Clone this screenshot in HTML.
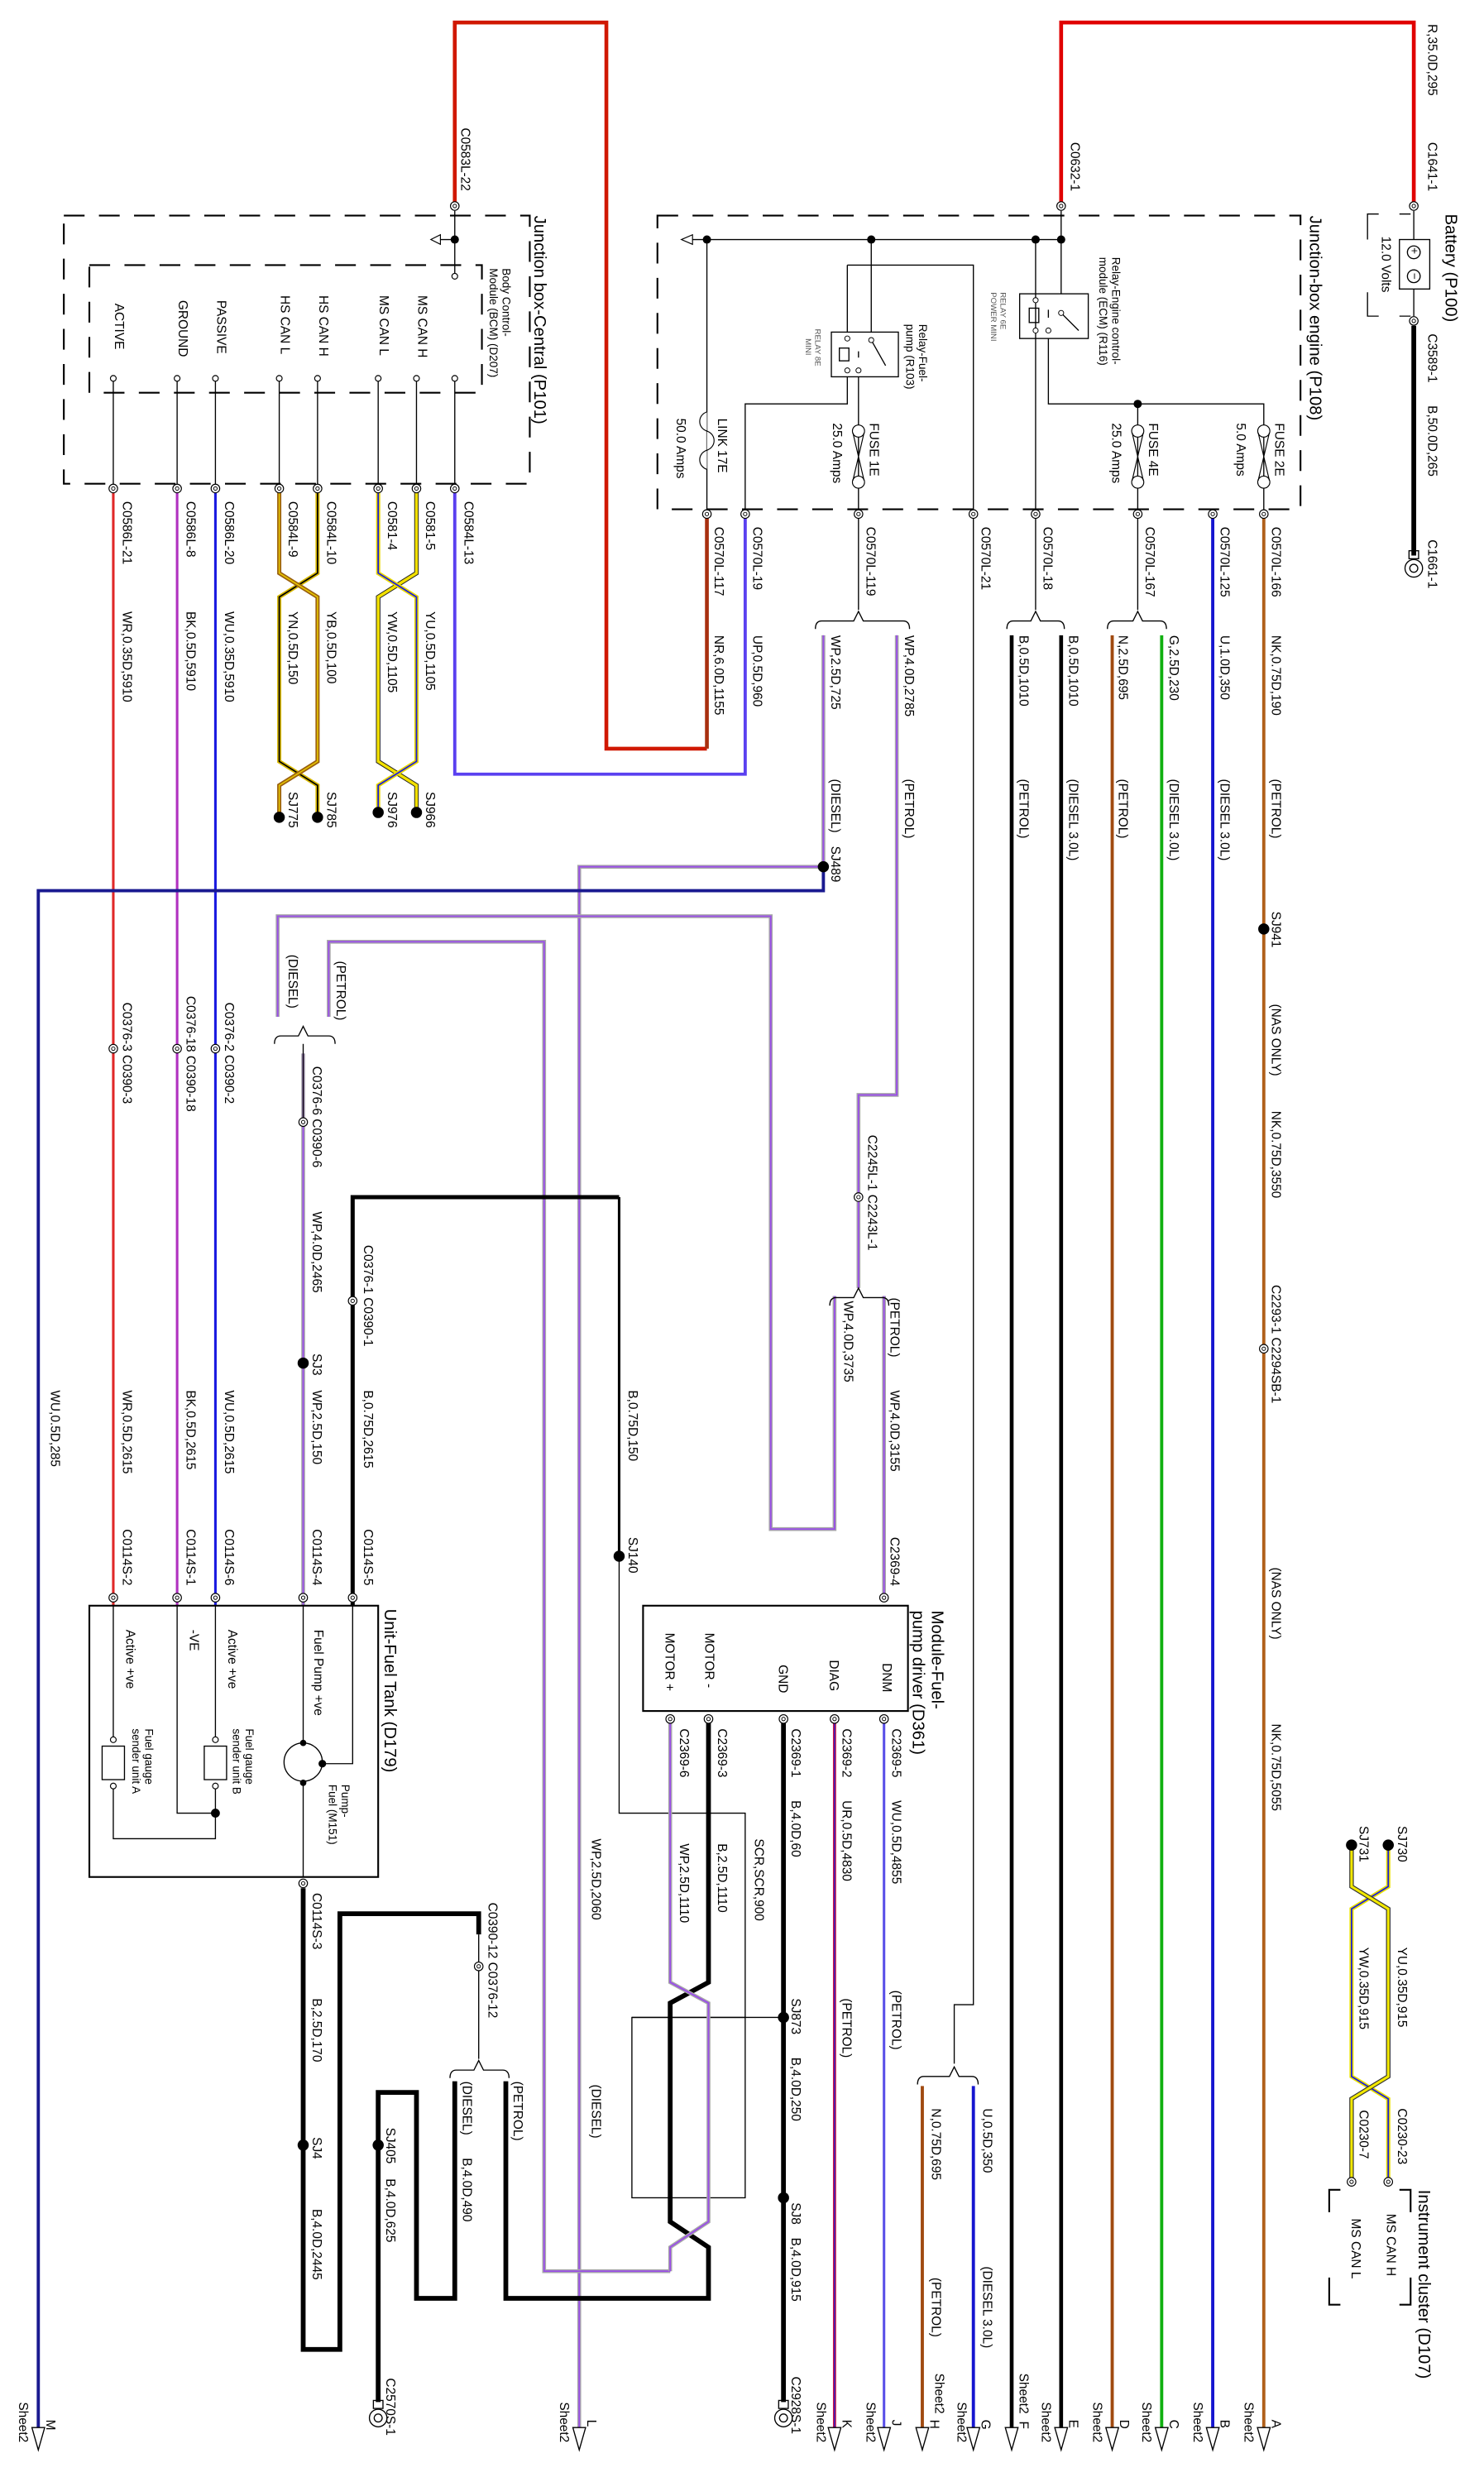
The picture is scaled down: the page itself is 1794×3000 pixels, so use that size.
<!DOCTYPE html>
<html><head><meta charset="utf-8"><style>
html,body{margin:0;padding:0;background:#fff}
svg{display:block}
text{font-family:"Liberation Sans",sans-serif;font-size:8px;fill:#000}
.t{font-size:10.5px}
.s{font-size:7px}
.xs{font-size:5px;fill:#555}
.th{fill:none;stroke:#000;stroke-width:0.7}
.dash{fill:none;stroke:#000;stroke-width:1.1;stroke-dasharray:13 9}
</style></head><body>
<svg width="1794" height="3000" viewBox="0 0 930 1555" xmlns="http://www.w3.org/2000/svg">
<defs>
<g id="cn"><circle r="2.7" fill="#fff" stroke="#000" stroke-width="0.6"/><circle r="1.1" fill="none" stroke="#000" stroke-width="0.5"/></g>
<g id="pin"><circle r="1.8" fill="#fff" stroke="#000" stroke-width="0.6"/></g>
</defs>
<rect width="930" height="1555" fill="#fff"/>

<!-- ===== Battery ===== -->
<path d="M886,129 V14 H665 V129" fill="none" stroke="#e00000" stroke-width="2.4"/>
<path d="M886,204 V348" stroke="#000" stroke-width="3"/>
<path d="M864,134 H857 V150 M857,183 V198 H864 M877,134 H884 M877,198 H884" class="th" stroke-width="1.1"/>
<line x1="886" y1="132" x2="886" y2="150" class="th"/>
<line x1="886" y1="181" x2="886" y2="198" class="th"/>
<rect x="877" y="150" width="19" height="31" class="th"/>
<circle cx="886" cy="158" r="4" class="th"/><circle cx="886" cy="173" r="4" class="th"/>
<text transform="translate(884,155) rotate(90)" class="s">+</text>
<text transform="translate(884,171) rotate(90)" class="s">−</text>
<use href="#cn" x="886" y="129"/><use href="#cn" x="886" y="201"/>
<rect x="883" y="345" width="6" height="5" class="th"/>
<circle cx="886" cy="356" r="5.5" class="th"/><circle cx="886" cy="356" r="2.5" class="th"/>
<text transform="translate(906,134) rotate(90)" class="t">Battery (P100)</text>
<text transform="translate(866,148) rotate(90)">12.0 Volts</text>
<text transform="translate(895,15) rotate(90)">R,35.0D,295</text>
<text transform="translate(895,89) rotate(90)">C1641-1</text>
<text transform="translate(895,209) rotate(90)">C3589-1</text>
<text transform="translate(895,254) rotate(90)">B,50.0D,265</text>
<text transform="translate(895,338) rotate(90)">C1661-1</text>
<text transform="translate(671,89) rotate(90)">C0632-1</text>

<!-- ===== Junction box engine ===== -->
<rect x="412" y="135" width="403" height="184" class="dash"/>
<text transform="translate(821,135) rotate(90)" class="t">Junction-box engine (P108)</text>
<path d="M430,150 H665 M665,132 V184 M649,150 V322 M657,212 V253 H792 V322 M713,253 V322" class="th"/>
<polygon points="427,150 434,147 434,153" fill="#fff" stroke="#000" stroke-width="0.6"/>
<circle cx="443" cy="150" r="2.6"/><circle cx="546" cy="150" r="2.6"/><circle cx="649" cy="150" r="2.6"/><circle cx="665" cy="150" r="2.6"/><circle cx="713" cy="253" r="2.6"/>
<rect x="639" y="184" width="43" height="28" fill="#fff" class="th"/>
<rect x="645" y="193" width="6" height="9" class="th"/>
<path d="M657,194 v5 M665,196 L676,207" class="th"/>
<circle cx="649" cy="188" r="1.6" fill="#fff" stroke="#000" stroke-width="0.5"/><circle cx="649" cy="207" r="1.6" fill="#fff" stroke="#000" stroke-width="0.5"/><circle cx="657" cy="207" r="1.6" fill="#fff" stroke="#000" stroke-width="0.5"/><circle cx="665" cy="196" r="1.6" fill="#fff" stroke="#000" stroke-width="0.5"/>
<text transform="translate(697,161) rotate(90)" class="s">Relay-Engine control-</text>
<text transform="translate(689,161) rotate(90)" class="s">module (ECM) (R116)</text>
<text transform="translate(627,183) rotate(90)" class="xs">RELAY 6E</text>
<text transform="translate(621,183) rotate(90)" class="xs">POWER MINI</text>
<path d="M531,166 H610 V1256 H598 V1293 M546,150 V208 M531,166 V208 M531,236 V253 H467 V322 M538,236 V322 M443,150 V322" class="th"/>
<rect x="521" y="208" width="42" height="28" fill="#fff" class="th"/>
<rect x="526" y="218" width="6" height="8" class="th"/>
<path d="M538,220 v4 M546,213 L555,229" class="th"/>
<circle cx="531" cy="212" r="1.6" fill="#fff" stroke="#000" stroke-width="0.5"/><circle cx="531" cy="232" r="1.6" fill="#fff" stroke="#000" stroke-width="0.5"/><circle cx="538" cy="232" r="1.6" fill="#fff" stroke="#000" stroke-width="0.5"/><circle cx="546" cy="213" r="1.6" fill="#fff" stroke="#000" stroke-width="0.5"/>
<text transform="translate(576,203) rotate(90)" class="s">Relay-Fuel-</text>
<text transform="translate(568,203) rotate(90)" class="s">pump (R103)</text>
<text transform="translate(511,206) rotate(90)" class="xs">RELAY 8E</text>
<text transform="translate(505,212) rotate(90)" class="xs">MINI</text>
<!-- fuses -->
<g fill="#fff" stroke="#000" stroke-width="0.6">
<circle cx="792" cy="270" r="3.8"/><circle cx="792" cy="302" r="3.8"/><path d="M788.5,271 L795.5,301 M795.5,271 L788.5,301" fill="none"/>
<circle cx="713" cy="270" r="3.8"/><circle cx="713" cy="302" r="3.8"/><path d="M709.5,271 L716.5,301 M716.5,271 L709.5,301" fill="none"/>
<circle cx="538" cy="270" r="3.8"/><circle cx="538" cy="302" r="3.8"/><path d="M534.5,271 L541.5,301 M541.5,271 L534.5,301" fill="none"/>
<path d="M443,258 c-6,2 -6,10 0,12 c6,2 6,10 0,12 c-6,2 -6,10 0,12" fill="#fff"/>
</g>
<text transform="translate(799,265) rotate(90)">FUSE 2E</text>
<text transform="translate(775,265) rotate(90)">5.0 Amps</text>
<text transform="translate(720,265) rotate(90)">FUSE 4E</text>
<text transform="translate(697,265) rotate(90)">25.0 Amps</text>
<text transform="translate(545,265) rotate(90)">FUSE 1E</text>
<text transform="translate(522,265) rotate(90)">25.0 Amps</text>
<text transform="translate(450,262) rotate(90)">LINK 17E</text>
<text transform="translate(424,262) rotate(90)">50.0 Amps</text>

<!-- ===== Junction box central ===== -->
<rect x="40" y="135" width="292" height="168" class="dash"/>
<rect x="56" y="166" width="246" height="80" class="dash"/>
<text transform="translate(335,135) rotate(90)" class="t">Junction box-Central (P101)</text>
<text transform="translate(315,168) rotate(90)" class="s">Body Control-</text>
<text transform="translate(307,168) rotate(90)" class="s">Module (BCM) (D207)</text>
<path d="M285,129 V14 H380 V469 H443" fill="none" stroke="#d01800" stroke-width="2.4"/>
<path d="M443,469 V322" stroke="#a83010" stroke-width="2.4"/>
<path d="M274,150 H285 M285,132 V173 M285,237 V306 M261,237 V306 M237,237 V306 M199,237 V306 M175,237 V306 M135,237 V306 M111,237 V306 M71,237 V306" class="th"/>
<polygon points="270,150 276,147 276,153" fill="#fff" stroke="#000" stroke-width="0.6"/>
<circle cx="285" cy="150" r="2.6"/>
<use href="#pin" x="285" y="173"/>
<use href="#pin" x="285" y="237"/><use href="#pin" x="261" y="237"/><use href="#pin" x="237" y="237"/><use href="#pin" x="199" y="237"/><use href="#pin" x="175" y="237"/><use href="#pin" x="135" y="237"/><use href="#pin" x="111" y="237"/><use href="#pin" x="71" y="237"/>
<text transform="translate(262,185) rotate(90)">MS CAN H</text>
<text transform="translate(238,185) rotate(90)">MS CAN L</text>
<text transform="translate(200,185) rotate(90)">HS CAN H</text>
<text transform="translate(176,185) rotate(90)">HS CAN L</text>
<text transform="translate(136,188) rotate(90)">PASSIVE</text>
<text transform="translate(112,188) rotate(90)">GROUND</text>
<text transform="translate(72,190) rotate(90)">ACTIVE</text>

<!-- wires from central -->
<path d="M285,306 V485 H467 V322" fill="none" stroke="#5a40f0" stroke-width="2"/>
<path d="M135,306 V1006" stroke="#1a1ae0" stroke-width="1.6"/>
<path d="M111,306 V1006" stroke="#b030c0" stroke-width="1.6"/>
<path d="M71,306 V1006" stroke="#e02828" stroke-width="1.6"/>
<!-- twisted pair 1 -->
<g fill="none">
<path d="M261,306 V359 L237,374 V477 L261,492 V509" stroke="#222" stroke-width="2.8"/>
<path d="M261,306 V359 L237,374 V477 L261,492 V509" stroke="#f2e000" stroke-width="1.8"/>
<path d="M237,306 V359 L261,374 V477 L237,492 V509" stroke="#e8d800" stroke-width="2.6"/>
<path d="M237,306 V359 L261,374 V477 L237,492 V509" stroke="#1a1ae0" stroke-width="0.9"/>
<path d="M199,306 V359 L175,374 V477 L199,492 V512" stroke="#d8b800" stroke-width="2.6"/>
<path d="M199,306 V359 L175,374 V477 L199,492 V512" stroke="#000" stroke-width="0.9"/>
<path d="M175,306 V359 L199,374 V477 L175,492 V512" stroke="#9a6010" stroke-width="2.6"/>
<path d="M175,306 V359 L199,374 V477 L175,492 V512" stroke="#e8c800" stroke-width="0.8"/>
</g>
<circle cx="261" cy="509" r="3.5"/><circle cx="237" cy="509" r="3.5"/><circle cx="199" cy="512" r="3.5"/><circle cx="175" cy="512" r="3.5"/>
<use href="#cn" x="285" y="306"/><use href="#cn" x="261" y="306"/><use href="#cn" x="237" y="306"/><use href="#cn" x="199" y="306"/><use href="#cn" x="175" y="306"/><use href="#cn" x="135" y="306"/><use href="#cn" x="111" y="306"/><use href="#cn" x="71" y="306"/>
<text transform="translate(291,314) rotate(90)">C0584L-13</text>
<text transform="translate(267,314) rotate(90)">C0581-5</text>
<text transform="translate(243,314) rotate(90)">C0581-4</text>
<text transform="translate(205,314) rotate(90)">C0584L-10</text>
<text transform="translate(181,314) rotate(90)">C0584L-9</text>
<text transform="translate(141,314) rotate(90)">C0586L-20</text>
<text transform="translate(117,314) rotate(90)">C0586L-8</text>
<text transform="translate(77,314) rotate(90)">C0586L-21</text>
<text transform="translate(267,383) rotate(90)">YU,0.5D,1105</text>
<text transform="translate(243,383) rotate(90)">YW,0.5D,1105</text>
<text transform="translate(205,383) rotate(90)">YB,0.5D,100</text>
<text transform="translate(181,383) rotate(90)">YN,0.5D,150</text>
<text transform="translate(141,383) rotate(90)">WU,0.35D,5910</text>
<text transform="translate(117,383) rotate(90)">BK,0.5D,5910</text>
<text transform="translate(77,383) rotate(90)">WR,0.35D,5910</text>
<text transform="translate(267,496) rotate(90)">SJ966</text>
<text transform="translate(243,496) rotate(90)">SJ976</text>
<text transform="translate(205,496) rotate(90)">SJ785</text>
<text transform="translate(181,496) rotate(90)">SJ775</text>
<text transform="translate(289,80) rotate(90)">C0583L-22</text>
<use href="#cn" x="285" y="129"/><use href="#cn" x="665" y="129"/>

<!-- ===== engine box outputs ===== -->
<path d="M538,322 V382 M713,322 V382 M649,322 V382" class="th"/>
<path d="M511,394 Q511,389 515,389 H535 L538,383 L541,389 H566 Q570,389 570,394" class="th"/>
<path d="M694,394 Q694,389 698,389 H710 L713,383 L716,389 H727 Q731,389 731,394" class="th"/>
<path d="M631,394 Q631,389 635,389 H646 L649,383 L652,389 H663 Q667,389 667,394" class="th"/>
<path d="M792,322 V1521" stroke="#b0601a" stroke-width="2"/>
<path d="M760,322 V1521" stroke="#1515d0" stroke-width="2"/>
<path d="M728,398 V1521" stroke="#10b010" stroke-width="2"/>
<path d="M697,398 V1521" stroke="#a04a10" stroke-width="2"/>
<path d="M665,398 V1521" stroke="#000" stroke-width="2.4"/>
<path d="M634,398 V1521" stroke="#000" stroke-width="2.4"/>
<circle cx="792" cy="582" r="3.5"/>
<use href="#cn" x="792" y="845"/>
<g fill="none">
<path d="M562,398 V686 H538 V807" stroke="#a8a8a8" stroke-width="2.4"/><path d="M562,398 V686 H538 V807" stroke="#9a4fe8" stroke-width="1"/>
<path d="M516,398 V543" stroke="#a8a8a8" stroke-width="2.4"/><path d="M516,398 V543" stroke="#9a4fe8" stroke-width="1"/>
<path d="M516,543 H363 V1521" stroke="#a8a8a8" stroke-width="2.4"/><path d="M516,543 H363 V1521" stroke="#9a4fe8" stroke-width="1"/>
<path d="M516,543 V558 H24 V1521" stroke="#1a1a90" stroke-width="2"/>
<path d="M174,637 V574 H483 V958 H523 V812" stroke="#a8a8a8" stroke-width="2.4"/><path d="M174,637 V574 H483 V958 H523 V812" stroke="#9a4fe8" stroke-width="1"/>
<path d="M206,637 V590 H341 V1423 H420" stroke="#a8a8a8" stroke-width="2.4"/><path d="M206,637 V590 H341 V1423 H420" stroke="#9a4fe8" stroke-width="1"/>
<path d="M554,812 V1001" stroke="#a8a8a8" stroke-width="2.4"/><path d="M554,812 V1001" stroke="#9a4fe8" stroke-width="1"/>
<path d="M190,660 V1006" stroke="#a8a8a8" stroke-width="2.4"/><path d="M190,660 V1006" stroke="#9a4fe8" stroke-width="1"/>
</g>
<circle cx="516" cy="543" r="3.5"/>
<path d="M172,654 Q172,649 176,649 H187 L190,643 L193,649 H206 Q210,649 210,654" class="th"/>
<path d="M190,654 V703" class="th"/>
<path d="M520,818 Q520,813 524,813 H535 L538,807 L541,813 H553 Q557,813 557,818" class="th"/>
<use href="#cn" x="538" y="750"/><use href="#cn" x="190" y="703"/>
<use href="#cn" x="135" y="657"/><use href="#cn" x="111" y="657"/><use href="#cn" x="71" y="657"/>
<circle cx="190" cy="854" r="3.5"/>
<!-- black from C0376-1 -->
<path d="M221,1006 V750 H388" fill="none" stroke="#000" stroke-width="2.6"/>
<path d="M388,750 V975" stroke="#000" stroke-width="1.6"/>
<path d="M388,975 V1136 H467 V1264 M396,1264 H491" class="th"/>
<rect x="396" y="1264" width="71" height="113" class="th"/>
<circle cx="388" cy="975" r="3.5"/>
<use href="#cn" x="221" y="815"/>

<use href="#cn" x="792" y="322"/><use href="#cn" x="760" y="322"/><use href="#cn" x="713" y="322"/><use href="#cn" x="649" y="322"/><use href="#cn" x="610" y="322"/><use href="#cn" x="538" y="322"/><use href="#cn" x="467" y="322"/><use href="#cn" x="443" y="322"/>
<text transform="translate(797,330) rotate(90)">C0570L-166</text>
<text transform="translate(765,330) rotate(90)">C0570L-125</text>
<text transform="translate(718,330) rotate(90)">C0570L-167</text>
<text transform="translate(654,330) rotate(90)">C0570L-18</text>
<text transform="translate(615,330) rotate(90)">C0570L-21</text>
<text transform="translate(543,330) rotate(90)">C0570L-119</text>
<text transform="translate(472,330) rotate(90)">C0570L-19</text>
<text transform="translate(448,330) rotate(90)">C0570L-117</text>
<text transform="translate(797,398) rotate(90)">NK,0.75D,190</text>
<text transform="translate(765,398) rotate(90)">U,1.0D,350</text>
<text transform="translate(733,398) rotate(90)">G,2.5D,230</text>
<text transform="translate(701,398) rotate(90)">N,2.5D,695</text>
<text transform="translate(670,398) rotate(90)">B,0.5D,1010</text>
<text transform="translate(639,398) rotate(90)">B,0.5D,1010</text>
<text transform="translate(567,398) rotate(90)">WP,4.0D,2785</text>
<text transform="translate(521,398) rotate(90)">WP,2.5D,725</text>
<text transform="translate(472,398) rotate(90)">UP,0.5D,960</text>
<text transform="translate(448,398) rotate(90)">NR,6.0D,1155</text>
<text transform="translate(797,488) rotate(90)">(PETROL)</text>
<text transform="translate(765,488) rotate(90)">(DIESEL 3.0L)</text>
<text transform="translate(733,488) rotate(90)">(DIESEL 3.0L)</text>
<text transform="translate(701,488) rotate(90)">(PETROL)</text>
<text transform="translate(670,488) rotate(90)">(DIESEL 3.0L)</text>
<text transform="translate(639,488) rotate(90)">(PETROL)</text>
<text transform="translate(567,488) rotate(90)">(PETROL)</text>
<text transform="translate(521,488) rotate(90)">(DIESEL)</text>
<text transform="translate(521,530) rotate(90)">SJ489</text>
<text transform="translate(797,571) rotate(90)">SJ941</text>
<text transform="translate(797,629) rotate(90)">(NAS ONLY)</text>
<text transform="translate(797,696) rotate(90)">NK,0.75D,3550</text>
<text transform="translate(797,805) rotate(90)">C2293-1 C2294SB-1</text>
<text transform="translate(797,982) rotate(90)">(NAS ONLY)</text>
<text transform="translate(797,1080) rotate(90)">NK,0.75D,5055</text>

<text transform="translate(211,602) rotate(90)">(PETROL)</text>
<text transform="translate(181,598) rotate(90)">(DIESEL)</text>
<text transform="translate(141,628) rotate(90)">C0376-2 C0390-2</text>
<text transform="translate(117,624) rotate(90)">C0376-18 C0390-18</text>
<text transform="translate(77,628) rotate(90)">C0376-3 C0390-3</text>
<text transform="translate(196,668) rotate(90)">C0376-6 C0390-6</text>
<text transform="translate(196,759) rotate(90)">WP,4.0D,2465</text>
<text transform="translate(228,780) rotate(90)">C0376-1 C0390-1</text>
<text transform="translate(196,848) rotate(90)">SJ3</text>
<text transform="translate(196,871) rotate(90)">WP,2.5D,150</text>
<text transform="translate(228,871) rotate(90)">B,0.75D,2615</text>
<text transform="translate(141,871) rotate(90)">WU,0.5D,2615</text>
<text transform="translate(117,871) rotate(90)">BK,0.5D,2615</text>
<text transform="translate(77,871) rotate(90)">WR,0.5D,2615</text>
<text transform="translate(32,871) rotate(90)">WU,0.5D,285</text>
<text transform="translate(228,958) rotate(90)">C0114S-5</text>
<text transform="translate(196,958) rotate(90)">C0114S-4</text>
<text transform="translate(141,958) rotate(90)">C0114S-6</text>
<text transform="translate(117,958) rotate(90)">C0114S-1</text>
<text transform="translate(77,958) rotate(90)">C0114S-2</text>
<text transform="translate(394,871) rotate(90)">B,0.75D,150</text>
<text transform="translate(394,963) rotate(90)">SJ140</text>
<text transform="translate(544,711) rotate(90)">C2245L-1 C2243L-1</text>
<text transform="translate(558,813) rotate(90)">(PETROL)</text>
<text transform="translate(529,815) rotate(90)">WP,4.0D,3735</text>
<text transform="translate(558,871) rotate(90)">WP,4.0D,3155</text>
<text transform="translate(558,963) rotate(90)">C2369-4</text>
<use href="#cn" x="554" y="1001"/>

<!-- ===== Fuel tank ===== -->
<rect x="56" y="1006" width="181" height="170" fill="none" stroke="#000" stroke-width="1.1"/>
<text transform="translate(241,1008) rotate(90)" class="t">Unit-Fuel Tank (D179)</text>
<use href="#cn" x="221" y="1001"/><use href="#cn" x="190" y="1001"/><use href="#cn" x="135" y="1001"/><use href="#cn" x="111" y="1001"/><use href="#cn" x="71" y="1001"/>
<path d="M221,1006 V1105 H202 M190,1006 V1092 M190,1116 V1176 M135,1006 V1091 M135,1117 V1136 M111,1006 V1136 H135 M71,1006 V1091 M71,1117 V1152 H135 V1136" class="th"/>
<circle cx="190" cy="1104" r="12" fill="#fff" stroke="#000" stroke-width="0.7"/>
<circle cx="202" cy="1105" r="2.4"/><circle cx="190" cy="1092" r="2"/><circle cx="190" cy="1117" r="2"/><circle cx="135" cy="1136" r="2.8"/>
<rect x="128" y="1094" width="14" height="21" fill="#fff" stroke="#000" stroke-width="0.7"/>
<rect x="64" y="1094" width="14" height="21" fill="#fff" stroke="#000" stroke-width="0.7"/>
<use href="#pin" x="135" y="1090"/><use href="#pin" x="135" y="1119"/><use href="#pin" x="71" y="1090"/><use href="#pin" x="71" y="1119"/>
<text transform="translate(197,1021) rotate(90)">Fuel Pump +ve</text>
<text transform="translate(143,1021) rotate(90)">Active +ve</text>
<text transform="translate(119,1021) rotate(90)">-VE</text>
<text transform="translate(79,1021) rotate(90)">Active +ve</text>
<text transform="translate(214,1118) rotate(90)" class="s">Pump-</text>
<text transform="translate(206,1118) rotate(90)" class="s">Fuel (M151)</text>
<text transform="translate(154,1083) rotate(90)" class="s">Fuel gauge</text>
<text transform="translate(146,1083) rotate(90)" class="s">sender unit B</text>
<text transform="translate(91,1083) rotate(90)" class="s">Fuel gauge</text>
<text transform="translate(83,1083) rotate(90)" class="s">sender unit A</text>
<use href="#cn" x="190" y="1180"/>
<text transform="translate(196,1186) rotate(90)">C0114S-3</text>
<text transform="translate(196,1252) rotate(90)">B,2.5D,170</text>
<text transform="translate(196,1339) rotate(90)">SJ4</text>
<text transform="translate(196,1384) rotate(90)">B,4.0D,2445</text>
<path d="M190,1183 V1472 H213 V1199 H300 V1212" fill="none" stroke="#000" stroke-width="3"/>
<path d="M300,1212 V1290" class="th"/>
<use href="#cn" x="300" y="1232"/>
<path d="M282,1302 Q282,1297 286,1297 H297 L300,1291 L303,1297 H315 Q319,1297 319,1302" class="th"/>
<path d="M285,1304 V1440 H261 V1311 H237 V1505" fill="none" stroke="#000" stroke-width="3"/>
<path d="M317,1304 V1440 H444 V1408 L420,1392 V1255 L444,1242 V1077" fill="none" stroke="#000" stroke-width="3"/>
<path d="M420,1077 V1242 L444,1255 V1392 L420,1408 V1423" fill="none" stroke="#a8a8a8" stroke-width="2.4"/>
<path d="M420,1077 V1242 L444,1255 V1392 L420,1408 V1423" fill="none" stroke="#9a4fe8" stroke-width="1"/>
<circle cx="190" cy="1344" r="3.5"/><circle cx="237" cy="1344" r="3.5"/>
<rect x="234" y="1504" width="6" height="5" class="th"/>
<circle cx="237" cy="1515" r="5.5" class="th"/><circle cx="237" cy="1515" r="2.5" class="th"/>
<text transform="translate(306,1192) rotate(90)">C0390-12 C0376-12</text>
<text transform="translate(322,1304) rotate(90)">(PETROL)</text>
<text transform="translate(290,1304) rotate(90)">(DIESEL)</text>
<text transform="translate(290,1352) rotate(90)">B,4.0D,490</text>
<text transform="translate(242,1333) rotate(90)">SJ405</text>
<text transform="translate(242,1365) rotate(90)">B,4.0D,625</text>
<text transform="translate(242,1490) rotate(90)">C2570S-1</text>

<!-- ===== Module fuel pump driver ===== -->
<rect x="403" y="1006" width="166" height="66" fill="#fff" stroke="#000" stroke-width="1.1"/>
<text transform="translate(584,1009) rotate(90)" class="t">Module-Fuel-</text>
<text transform="translate(572,1009) rotate(90)" class="t">pump driver (D361)</text>
<text transform="translate(553,1042) rotate(90)">DNM</text>
<text transform="translate(520,1040) rotate(90)">DIAG</text>
<text transform="translate(488,1043) rotate(90)">GND</text>
<text transform="translate(442,1023) rotate(90)">MOTOR -</text>
<text transform="translate(417,1023) rotate(90)">MOTOR +</text>
<path d="M554,1077 V1521" stroke="#5a50e8" stroke-width="1.6"/>
<path d="M523,1077 V1521" stroke="#d01040" stroke-width="2"/>
<path d="M523,1077 V1521" stroke="#2020d0" stroke-width="0.7"/>
<path d="M491,1077 V1505" stroke="#000" stroke-width="3"/>
<circle cx="491" cy="1264" r="3.5"/><circle cx="491" cy="1377" r="3.5"/>
<rect x="488" y="1504" width="6" height="5" class="th"/>
<circle cx="491" cy="1515" r="5.5" class="th"/><circle cx="491" cy="1515" r="2.5" class="th"/>
<use href="#cn" x="554" y="1077"/><use href="#cn" x="523" y="1077"/><use href="#cn" x="491" y="1077"/><use href="#cn" x="444" y="1077"/><use href="#cn" x="420" y="1077"/>
<text transform="translate(559,1083) rotate(90)">C2369-5</text>
<text transform="translate(528,1083) rotate(90)">C2369-2</text>
<text transform="translate(496,1083) rotate(90)">C2369-1</text>
<text transform="translate(450,1083) rotate(90)">C2369-3</text>
<text transform="translate(426,1083) rotate(90)">C2369-6</text>
<text transform="translate(559,1128) rotate(90)">WU,0.5D,4855</text>
<text transform="translate(528,1128) rotate(90)">UR,0.5D,4830</text>
<text transform="translate(496,1128) rotate(90)">B,4.0D,60</text>
<text transform="translate(473,1152) rotate(90)">SCR,SCR,900</text>
<text transform="translate(450,1155) rotate(90)">B,2.5D,1110</text>
<text transform="translate(426,1155) rotate(90)">WP,2.5D,1110</text>
<text transform="translate(371,1152) rotate(90)">WP,2.5D,2060</text>
<text transform="translate(559,1247) rotate(90)">(PETROL)</text>
<text transform="translate(528,1252) rotate(90)">(PETROL)</text>
<text transform="translate(496,1252) rotate(90)">SJ873</text>
<text transform="translate(496,1289) rotate(90)">B,4.0D,250</text>
<text transform="translate(496,1380) rotate(90)">SJ8</text>
<text transform="translate(496,1402) rotate(90)">B,4.0D,915</text>
<text transform="translate(496,1489) rotate(90)">C2928S-1</text>
<text transform="translate(371,1306) rotate(90)">(DIESEL)</text>

<!-- C0570L-21 branch -->
<path d="M575,1306 Q575,1301 579,1301 H595 L598,1295 L601,1301 H609 Q613,1301 613,1306" class="th"/>
<path d="M578,1307 V1521" stroke="#a04a10" stroke-width="2"/>
<path d="M610,1307 V1521" stroke="#1515d0" stroke-width="2"/>
<text transform="translate(616,1321) rotate(90)">U,0.5D,350</text>
<text transform="translate(584,1321) rotate(90)">N,0.75D,695</text>
<text transform="translate(616,1420) rotate(90)">(DIESEL 3.0L)</text>
<text transform="translate(584,1427) rotate(90)">(PETROL)</text>

<!-- ===== Instrument cluster ===== -->
<g fill="none">
<path d="M870,1156 V1182 L847,1196 V1301 L870,1315 V1367" stroke="#e8e000" stroke-width="2.6"/>
<path d="M870,1156 V1182 L847,1196 V1301 L870,1315 V1367" stroke="#1a1ae0" stroke-width="0.9"/>
<path d="M847,1156 V1182 L870,1196 V1301 L847,1315 V1367" stroke="#333" stroke-width="2.8"/>
<path d="M847,1156 V1182 L870,1196 V1301 L847,1315 V1367" stroke="#f2e800" stroke-width="1.6"/>
</g>
<circle cx="870" cy="1156" r="3.5"/><circle cx="847" cy="1156" r="3.5"/>
<use href="#cn" x="870" y="1367"/><use href="#cn" x="847" y="1367"/>
<path d="M840,1372 H833 V1386 M833,1427 V1444 H840 M877,1372 H884 V1386 M884,1427 V1444 H877" fill="none" stroke="#000" stroke-width="1.1"/>
<text transform="translate(876,1144) rotate(90)">SJ730</text>
<text transform="translate(852,1144) rotate(90)">SJ731</text>
<text transform="translate(876,1220) rotate(90)">YU,0.35D,915</text>
<text transform="translate(852,1220) rotate(90)">YW,0.35D,915</text>
<text transform="translate(876,1321) rotate(90)">C0230-23</text>
<text transform="translate(852,1322) rotate(90)">C0230-7</text>
<text transform="translate(889,1372) rotate(90)" class="t">Instrument cluster (D107)</text>
<text transform="translate(869,1387) rotate(90)">MS CAN H</text>
<text transform="translate(847,1390) rotate(90)">MS CAN L</text>

<!-- ===== Sheet arrows ===== -->
<g fill="#fff" stroke="#000" stroke-width="0.7">
<polygon points="788,1521 796,1521 792,1535"/><polygon points="756,1521 764,1521 760,1535"/><polygon points="724,1521 732,1521 728,1535"/><polygon points="693,1521 701,1521 697,1535"/><polygon points="661,1521 669,1521 665,1535"/><polygon points="630,1521 638,1521 634,1535"/><polygon points="606,1521 614,1521 610,1535"/><polygon points="574,1521 582,1521 578,1535"/><polygon points="550,1521 558,1521 554,1535"/><polygon points="519,1521 527,1521 523,1535"/><polygon points="359,1521 367,1521 363,1535"/><polygon points="20,1521 28,1521 24,1535"/>
</g>
<g>
<text transform="translate(780,1505) rotate(90)">Sheet2</text><text transform="translate(797,1516) rotate(90)">A</text>
<text transform="translate(748,1505) rotate(90)">Sheet2</text><text transform="translate(765,1516) rotate(90)">B</text>
<text transform="translate(716,1505) rotate(90)">Sheet2</text><text transform="translate(733,1516) rotate(90)">C</text>
<text transform="translate(685,1505) rotate(90)">Sheet2</text><text transform="translate(702,1516) rotate(90)">D</text>
<text transform="translate(653,1505) rotate(90)">Sheet2</text><text transform="translate(670,1516) rotate(90)">E</text>
<text transform="translate(639,1487) rotate(90)">Sheet2</text><text transform="translate(639,1517) rotate(90)">F</text>
<text transform="translate(600,1505) rotate(90)">Sheet2</text><text transform="translate(615,1516) rotate(90)">G</text>
<text transform="translate(586,1487) rotate(90)">Sheet2</text><text transform="translate(583,1516) rotate(90)">H</text>
<text transform="translate(543,1505) rotate(90)">Sheet2</text><text transform="translate(559,1516) rotate(90)">J</text>
<text transform="translate(512,1505) rotate(90)">Sheet2</text><text transform="translate(528,1516) rotate(90)">K</text>
<text transform="translate(351,1505) rotate(90)">Sheet2</text><text transform="translate(368,1516) rotate(90)">L</text>
<text transform="translate(12,1505) rotate(90)">Sheet2</text><text transform="translate(29,1516) rotate(90)">M</text>
</g>
</svg>
</body></html>
